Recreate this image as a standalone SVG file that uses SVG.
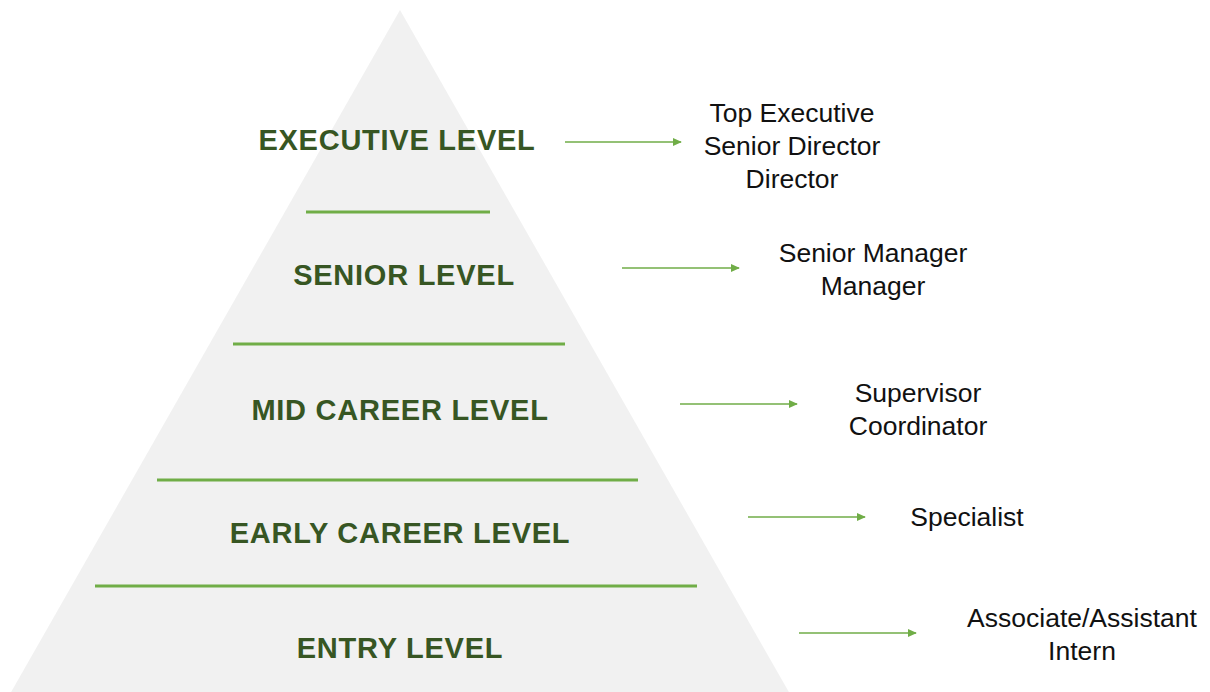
<svg xmlns="http://www.w3.org/2000/svg" width="1210" height="692" viewBox="0 0 1210 692">
  <style>
    .level { font-family: "Liberation Sans", Arial, sans-serif; font-weight: bold; font-size: 29px; fill: #375623; text-anchor: middle; letter-spacing: 0.75px; }
    .role { font-family: "Liberation Sans", Arial, sans-serif; font-size: 26.5px; fill: #111; text-anchor: middle; }
    .divider { stroke: #70ad47; stroke-width: 3; }
    .arrow { stroke: #70ad47; stroke-width: 1.6; fill: none; marker-end: url(#head); }
  </style>
  <defs>
    <marker id="head" viewBox="0 0 10 10" refX="9" refY="5" markerWidth="9" markerHeight="9" markerUnits="userSpaceOnUse" orient="auto">
      <path d="M0,0.5 L10,5 L0,9.5 Z" fill="#70ad47"/>
    </marker>
  </defs>

  <rect width="1210" height="692" fill="#ffffff"/>

  <!-- pyramid body -->
  <g id="pyramid">
    <polygon points="400,10 790,694 10,694" fill="#f1f1f1"/>
    <line class="divider" x1="306" y1="212" x2="490" y2="212"/>
    <line class="divider" x1="233" y1="344" x2="565" y2="344"/>
    <line class="divider" x1="157" y1="480" x2="638" y2="480"/>
    <line class="divider" x1="95" y1="586" x2="697" y2="586"/>
  </g>

  <g id="level-executive"><text class="level" x="397" y="150">EXECUTIVE LEVEL</text></g>
  <g id="level-senior"><text class="level" x="404" y="285">SENIOR LEVEL</text></g>
  <g id="level-mid"><text class="level" x="400" y="420">MID CAREER LEVEL</text></g>
  <g id="level-early"><text class="level" x="400" y="543">EARLY CAREER LEVEL</text></g>
  <g id="level-entry"><text class="level" x="400" y="658">ENTRY LEVEL</text></g>

  <g id="connectors">
    <line class="arrow" x1="565" y1="142" x2="681" y2="142"/>
    <line class="arrow" x1="622" y1="268" x2="739" y2="268"/>
    <line class="arrow" x1="680" y1="404" x2="797" y2="404"/>
    <line class="arrow" x1="748" y1="517" x2="865" y2="517"/>
    <line class="arrow" x1="799" y1="633" x2="916" y2="633"/>
  </g>

  <g id="roles-executive">
    <text class="role" x="792" y="122">Top Executive</text>
    <text class="role" x="792" y="155">Senior Director</text>
    <text class="role" x="792" y="188">Director</text>
  </g>
  <g id="roles-senior">
    <text class="role" x="873" y="262">Senior Manager</text>
    <text class="role" x="873" y="295">Manager</text>
  </g>
  <g id="roles-mid">
    <text class="role" x="918" y="402">Supervisor</text>
    <text class="role" x="918" y="435">Coordinator</text>
  </g>
  <g id="roles-early">
    <text class="role" x="967" y="526">Specialist</text>
  </g>
  <g id="roles-entry">
    <text class="role" x="1082" y="627">Associate/Assistant</text>
    <text class="role" x="1082" y="660">Intern</text>
  </g>
</svg>
